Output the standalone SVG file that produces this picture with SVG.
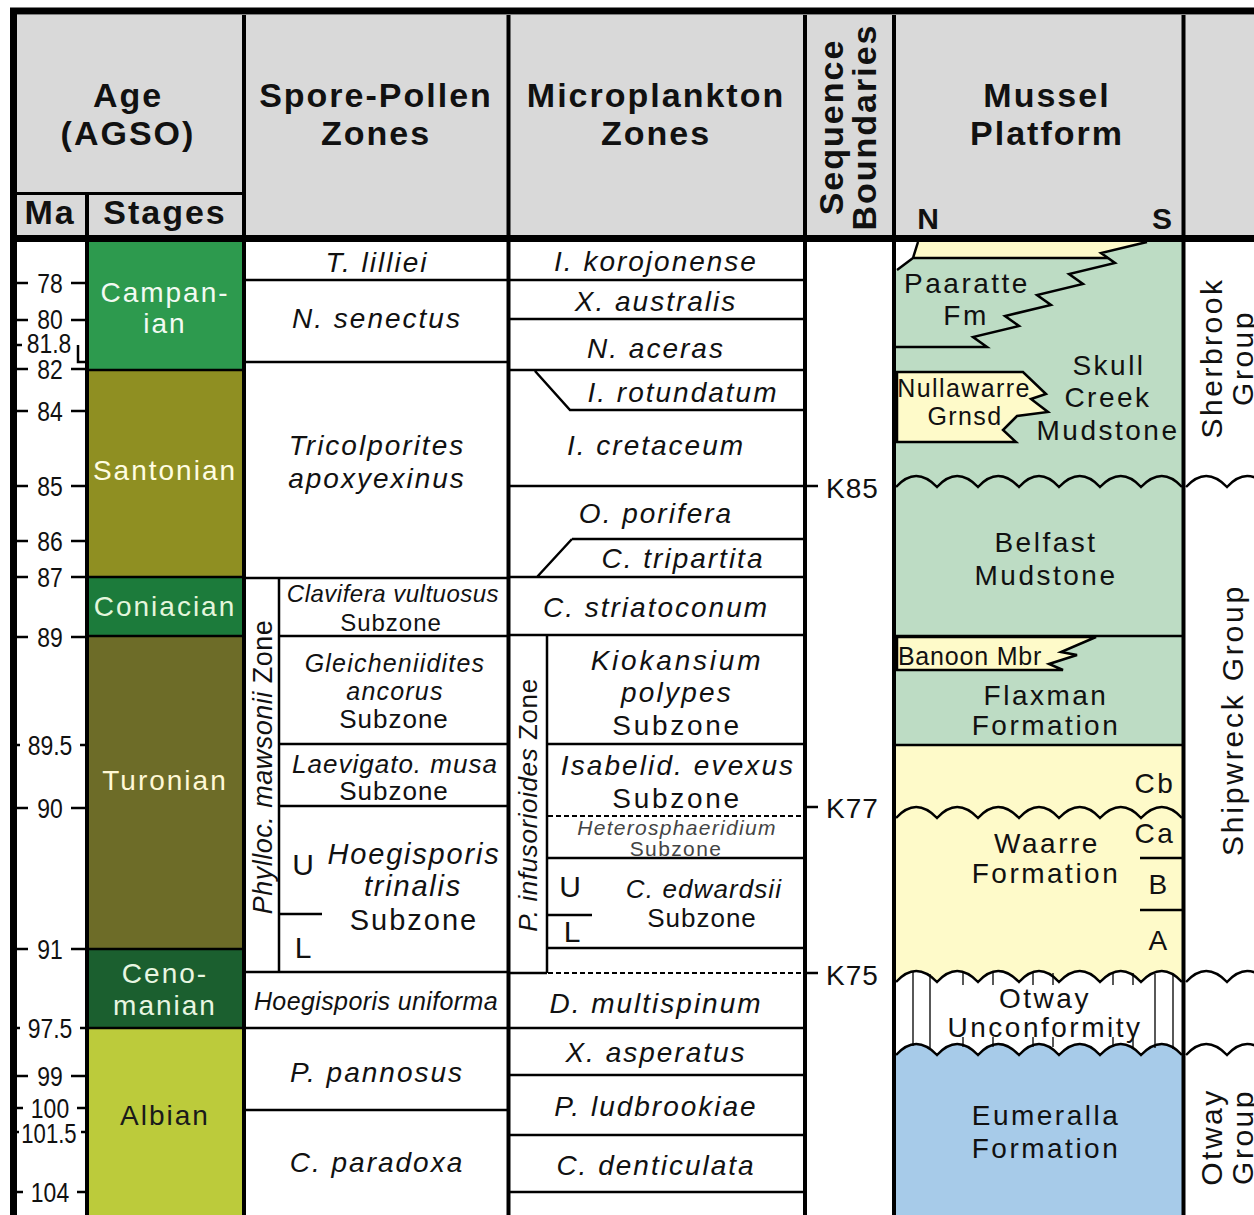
<svg xmlns="http://www.w3.org/2000/svg" width="1254" height="1215" viewBox="0 0 1254 1215">
<style>
text{font-family:"Liberation Sans",Arial,sans-serif;fill:#111}
.h{font-size:34px;font-weight:bold;letter-spacing:2px;text-anchor:middle}
.ma{font-size:27px;text-anchor:middle}
.st{font-size:28px;letter-spacing:2px;text-anchor:middle}
.z{font-size:28px;font-style:italic;letter-spacing:2px;text-anchor:middle}
.r{font-size:28px;letter-spacing:2px;text-anchor:middle}
.m{font-size:28px;letter-spacing:2.5px;text-anchor:middle}
.ln{stroke:#000;stroke-width:2.5;fill:none}
.th{stroke:#000;stroke-width:4;fill:none}
.dash{stroke:#000;stroke-width:2;stroke-dasharray:5,3;fill:none}
.yel{fill:#fefac9}
</style>
<rect x="0" y="0" width="1254" height="1215" fill="#fff"/>
<g id="header">
<rect x="17" y="15" width="1237" height="221" fill="#d9d9d9"/>
<text class="h" x="128" y="107">Age</text>
<text class="h" x="128" y="145">(AGSO)</text>
<text class="h" x="50" y="224">Ma</text>
<text class="h" x="165" y="224">Stages</text>
<text class="h" x="376" y="107">Spore-Pollen</text>
<text class="h" x="376" y="145">Zones</text>
<text class="h" x="656" y="107">Microplankton</text>
<text class="h" x="656" y="145">Zones</text>
<text class="h" transform="translate(843,127) rotate(-90)">Sequence</text>
<text class="h" transform="translate(876,127) rotate(-90)">Boundaries</text>
<text class="h" x="1047" y="107">Mussel</text>
<text class="h" x="1047" y="145">Platform</text>
<text x="928" y="229" style="font-size:30px;font-weight:bold;text-anchor:middle">N</text>
<text x="1162" y="229" style="font-size:30px;font-weight:bold;text-anchor:middle">S</text>
</g>
<g id="stages">
<rect x="89" y="242" width="153" height="128" fill="#2d9a4e"/>
<rect x="89" y="370" width="153" height="207" fill="#8f8f22"/>
<rect x="89" y="577" width="153" height="59" fill="#1c7b3b"/>
<rect x="89" y="636" width="153" height="313" fill="#6d6c28"/>
<rect x="89" y="949" width="153" height="79" fill="#1b5f2f"/>
<rect x="89" y="1028" width="153" height="187" fill="#bccb3b"/>
<text class="st" x="165" y="302" style="fill:#f2faf2">Campan-</text>
<text class="st" x="165" y="333" style="fill:#f2faf2">ian</text>
<text class="st" x="165" y="480" style="fill:#fffde2">Santonian</text>
<text class="st" x="165" y="616" style="fill:#e4f6dc">Coniacian</text>
<text class="st" x="165" y="790" style="fill:#fff8d6">Turonian</text>
<text class="st" x="165" y="983" style="fill:#e8f6e2">Ceno-</text>
<text class="st" x="165" y="1015" style="fill:#e8f6e2">manian</text>
<text class="st" x="165" y="1125" style="fill:#1a1a1a">Albian</text>
</g>
<g id="ma-scale">
<g class="ln">
<path d="M17,283H28M71,283H86M17,320H28M71,320H86M17,369H28M71,369H86M17,411H28M71,411H86M17,486H28M71,486H86M17,541H28M71,541H86M17,577H28M71,577H86M17,637H28M71,637H86M17,745H20M80,745H86M17,808H28M71,808H86M17,949H28M71,949H86M17,1028H20M80,1028H86M17,1076H28M71,1076H86M17,1108H23M77,1108H86M17,1132H19M81,1132H86M17,1192H23M77,1192H86"/>
<path d="M17,345H22M78,345V362H86"/>
</g>
<text class="ma" transform="translate(50,293) scale(0.85,1)">78</text>
<text class="ma" transform="translate(50,329) scale(0.85,1)">80</text>
<text class="ma" transform="translate(49,353) scale(0.85,1)">81.8</text>
<text class="ma" transform="translate(50,379) scale(0.85,1)">82</text>
<text class="ma" transform="translate(50,421) scale(0.85,1)">84</text>
<text class="ma" transform="translate(50,496) scale(0.85,1)">85</text>
<text class="ma" transform="translate(50,551) scale(0.85,1)">86</text>
<text class="ma" transform="translate(50,587) scale(0.85,1)">87</text>
<text class="ma" transform="translate(50,647) scale(0.85,1)">89</text>
<text class="ma" transform="translate(50,755) scale(0.85,1)">89.5</text>
<text class="ma" transform="translate(50,818) scale(0.85,1)">90</text>
<text class="ma" transform="translate(50,959) scale(0.85,1)">91</text>
<text class="ma" transform="translate(50,1038) scale(0.85,1)">97.5</text>
<text class="ma" transform="translate(50,1086) scale(0.85,1)">99</text>
<text class="ma" transform="translate(50,1118) scale(0.85,1)">100</text>
<text class="ma" transform="translate(49,1143) scale(0.82,1)">101.5</text>
<text class="ma" transform="translate(50,1202) scale(0.85,1)">104</text>
</g>
<g id="spore-pollen">
<text class="z" x="377" y="272">T. lilliei</text>
<text class="z" x="377" y="328">N. senectus</text>
<text class="z" x="377" y="455">Tricolporites</text>
<text class="z" x="377" y="488">apoxyexinus</text>
<text transform="translate(272,767) rotate(-90)" style="font-size:27px;letter-spacing:0.5px;text-anchor:middle"><tspan style="font-style:italic">Phylloc. mawsonii</tspan> Zone</text>
<text x="393" y="602" style="font-size:24px;font-style:italic;letter-spacing:0.5px;text-anchor:middle">Clavifera vultuosus</text>
<text x="391" y="631" style="font-size:24px;letter-spacing:1px;text-anchor:middle">Subzone</text>
<text x="395" y="672" style="font-size:25px;font-style:italic;letter-spacing:1.2px;text-anchor:middle">Gleicheniidites</text>
<text x="395" y="700" style="font-size:25px;font-style:italic;letter-spacing:1.2px;text-anchor:middle">ancorus</text>
<text x="394" y="728" style="font-size:26px;letter-spacing:1px;text-anchor:middle">Subzone</text>
<text x="395" y="773" style="font-size:26px;font-style:italic;letter-spacing:1px;text-anchor:middle">Laevigato. musa</text>
<text x="394" y="800" style="font-size:26px;letter-spacing:1px;text-anchor:middle">Subzone</text>
<text x="303" y="875" style="font-size:30px;text-anchor:middle">U</text>
<text x="303" y="958" style="font-size:30px;text-anchor:middle">L</text>
<text x="414" y="864" style="font-size:29px;font-style:italic;letter-spacing:1.8px;text-anchor:middle">Hoegisporis</text>
<text x="413" y="896" style="font-size:29px;font-style:italic;letter-spacing:1.8px;text-anchor:middle">trinalis</text>
<text x="414" y="930" style="font-size:29px;letter-spacing:2px;text-anchor:middle">Subzone</text>
<text x="376" y="1010" style="font-size:25px;font-style:italic;letter-spacing:0.4px;text-anchor:middle">Hoegisporis uniforma</text>
<text class="z" x="377" y="1082">P. pannosus</text>
<text class="z" x="377" y="1172">C. paradoxa</text>
</g>
<g id="microplankton">
<text class="z" x="656" y="271">I. korojonense</text>
<text class="z" x="656" y="311">X. australis</text>
<text class="z" x="656" y="358">N. aceras</text>
<text class="z" x="683" y="402">I. rotundatum</text>
<text class="z" x="656" y="455">I. cretaceum</text>
<text class="z" x="656" y="523">O. porifera</text>
<text class="z" x="683" y="568">C. tripartita</text>
<text class="z" x="656" y="617">C. striatoconum</text>
<text transform="translate(537,805) rotate(-90)" style="font-size:26px;letter-spacing:0.6px;text-anchor:middle"><tspan style="font-style:italic">P. infusorioides</tspan> Zone</text>
<text x="677" y="670" style="font-size:28px;font-style:italic;letter-spacing:2.8px;text-anchor:middle">Kiokansium</text>
<text x="677" y="702" style="font-size:28px;font-style:italic;letter-spacing:2.2px;text-anchor:middle">polypes</text>
<text x="677" y="735" style="font-size:28px;letter-spacing:2.7px;text-anchor:middle">Subzone</text>
<text x="678" y="775" style="font-size:28px;font-style:italic;letter-spacing:2.1px;text-anchor:middle">Isabelid. evexus</text>
<text x="677" y="808" style="font-size:28px;letter-spacing:2.7px;text-anchor:middle">Subzone</text>
<text x="677" y="835" style="font-size:21px;font-style:italic;letter-spacing:1.3px;text-anchor:middle;fill:#444">Heterosphaeridium</text>
<text x="676" y="856" style="font-size:21px;letter-spacing:1.4px;text-anchor:middle;fill:#444">Subzone</text>
<text x="570" y="897" style="font-size:30px;text-anchor:middle">U</text>
<text x="572" y="942" style="font-size:30px;text-anchor:middle">L</text>
<text x="704" y="898" style="font-size:26px;font-style:italic;letter-spacing:1.1px;text-anchor:middle">C. edwardsii</text>
<text x="702" y="927" style="font-size:26px;letter-spacing:1px;text-anchor:middle">Subzone</text>
<text class="z" x="656" y="1013">D. multispinum</text>
<text class="z" x="656" y="1062">X. asperatus</text>
<text class="z" x="656" y="1116">P. ludbrookiae</text>
<text class="z" x="656" y="1175">C. denticulata</text>
</g>
<g id="sequence-boundaries">
<text x="826" y="498" style="font-size:28px;letter-spacing:1px">K85</text>
<text x="826" y="818" style="font-size:28px;letter-spacing:1px">K77</text>
<text x="826" y="985" style="font-size:28px;letter-spacing:1px">K75</text>
</g>
<g id="mussel-platform">
<rect x="896" y="241" width="286" height="504" fill="#bddcc4"/>
<path class="yel" d="M896,745H1182V982Q1162,960 1141,982Q1121,960 1100,982Q1080,960 1059,982Q1039,960 1019,982Q998,960 978,982Q957,960 937,982Q916,960 896,982Z"/>
<path fill="#a7cbe9" d="M896,1055Q916,1033 937,1055Q957,1033 978,1055Q998,1033 1019,1055Q1039,1033 1059,1055Q1080,1033 1100,1055Q1121,1033 1141,1055Q1162,1033 1182,1055V1215H896Z"/>
<polygon fill="#fff" points="896,241 918,241 913,258 896,270"/>
<polygon class="yel" points="918,242 1147,242 1101,253 1108,258 913,258"/>
<path class="ln" d="M918,242L913,258L897,270M913,258H1108"/>
<path class="ln" d="M896,347H987L973,337L1019,326L1005,316L1051,305L1037,295L1083,284L1069,274L1115,263L1101,253L1147,242"/>
<polygon class="yel" points="897,372 1023,372 1046,394 1031,399 1048,412 1017,416 1003,430 1016,442 897,442" stroke="#000" stroke-width="2.5"/>
<polygon class="yel" points="897,637 1096,637 1061,652 1077,655 1049,664 1063,670 897,670" stroke="#000" stroke-width="2.5"/>
<path class="ln" d="M896,636H1182M896,745H1182M1140,858H1182M1140,910H1182"/>
<path class="ln" d="M896,487Q916,465 937,487Q957,465 978,487Q998,465 1019,487Q1039,465 1059,487Q1080,465 1100,487Q1121,465 1141,487Q1162,465 1182,487"/>
<path class="ln" d="M896,818Q916,796 937,818Q957,796 978,818Q998,796 1019,818Q1039,796 1059,818Q1080,796 1100,818Q1121,796 1141,818Q1162,796 1182,818"/>
<path class="ln" d="M896,982Q916,960 937,982Q957,960 978,982Q998,960 1019,982Q1039,960 1059,982Q1080,960 1100,982Q1121,960 1141,982Q1162,960 1182,982"/>
<path class="ln" d="M896,1055Q916,1033 937,1055Q957,1033 978,1055Q998,1033 1019,1055Q1039,1033 1059,1055Q1080,1033 1100,1055Q1121,1033 1141,1055Q1162,1033 1182,1055"/>
<path stroke="#000" stroke-width="1.3" fill="none" d="M913,972V1046M930,974V1048M1155,974V1048M1173,975V1049M963,973V985M993,973V985M1033,973V985M1053,973V985M1113,973V985M1133,973V985M963,1037V1047M993,1037V1047M1033,1037V1047M1053,1037V1047M1113,1037V1047M1133,1037V1047"/>
<text class="m" x="967" y="293">Paaratte</text>
<text class="m" x="966" y="325">Fm</text>
<text class="m" x="1109" y="375">Skull</text>
<text class="m" x="1108" y="407">Creek</text>
<text class="m" x="1108" y="440">Mudstone</text>
<text x="964" y="397" style="font-size:25px;letter-spacing:1.4px;text-anchor:middle">Nullawarre</text>
<text x="965" y="425" style="font-size:25px;letter-spacing:1.4px;text-anchor:middle">Grnsd</text>
<text class="m" x="1046" y="552">Belfast</text>
<text class="m" x="1046" y="585">Mudstone</text>
<text x="970" y="665" style="font-size:25px;letter-spacing:0.8px;text-anchor:middle">Banoon Mbr</text>
<text class="m" x="1046" y="705">Flaxman</text>
<text class="m" x="1046" y="735">Formation</text>
<text class="m" x="1155" y="793">Cb</text>
<text class="m" x="1155" y="843">Ca</text>
<text class="m" x="1159" y="894">B</text>
<text class="m" x="1159" y="950">A</text>
<text class="m" x="1047" y="853">Waarre</text>
<text class="m" x="1046" y="883">Formation</text>
<text class="m" x="1045" y="1008">Otway</text>
<text class="m" x="1045" y="1037">Unconformity</text>
<text class="m" x="1046" y="1125">Eumeralla</text>
<text class="m" x="1046" y="1158">Formation</text>
</g>
<g id="groups">
<path class="ln" d="M1186,487Q1206,465 1227,487Q1247,465 1268,487M1186,982Q1206,960 1227,982Q1247,960 1268,982M1186,1055Q1206,1033 1227,1055Q1247,1033 1268,1055"/>
<text transform="translate(1222,358) rotate(-90)" style="font-size:30px;letter-spacing:2.5px;text-anchor:middle">Sherbrook</text>
<text transform="translate(1253,358) rotate(-90)" style="font-size:30px;letter-spacing:2.5px;text-anchor:middle">Group</text>
<text transform="translate(1243,720) rotate(-90)" style="font-size:30px;letter-spacing:2.8px;text-anchor:middle">Shipwreck Group</text>
<text transform="translate(1222,1137) rotate(-90)" style="font-size:30px;letter-spacing:2.5px;text-anchor:middle">Otway</text>
<text transform="translate(1253,1137) rotate(-90)" style="font-size:30px;letter-spacing:2.5px;text-anchor:middle">Group</text>
</g>
<g id="connectors">
<path class="ln" d="M89,370H242M89,577H242M89,636H242M89,949H242M89,1028H242"/>
<path class="ln" d="M246,280H507M246,362H507M246,578H507M279,578V972M279,636H507M279,744H507M279,806H507M279,914H322M246,972H507M246,1028H507M246,1110H507"/>
<path class="ln" d="M510,280H805M510,319H805M510,370H805M535,371L570,410H805M510,486H818M572,539H805M572,539L537,577M510,577H805M510,635H805M547,635V973M510,973H547M547,744H805M547,858H805M547,915H592M547,948H805M510,1028H805M510,1075H805M510,1135H805M510,1192H805M805,807H818M805,973H818"/>
<path class="dash" d="M548,816H805M548,973H805"/>
<path class="th" d="M87,193V1215M244,15V1215M508.5,15V1215M805,15V1215M894,15V1215M1183.5,15V1215"/>
<path stroke="#000" stroke-width="3" fill="none" d="M17,193.5H244"/>
<path stroke="#000" stroke-width="7" fill="none" d="M10,11H1254M13.5,8V1215M17,238.5H1254"/>
</g>
</svg>
